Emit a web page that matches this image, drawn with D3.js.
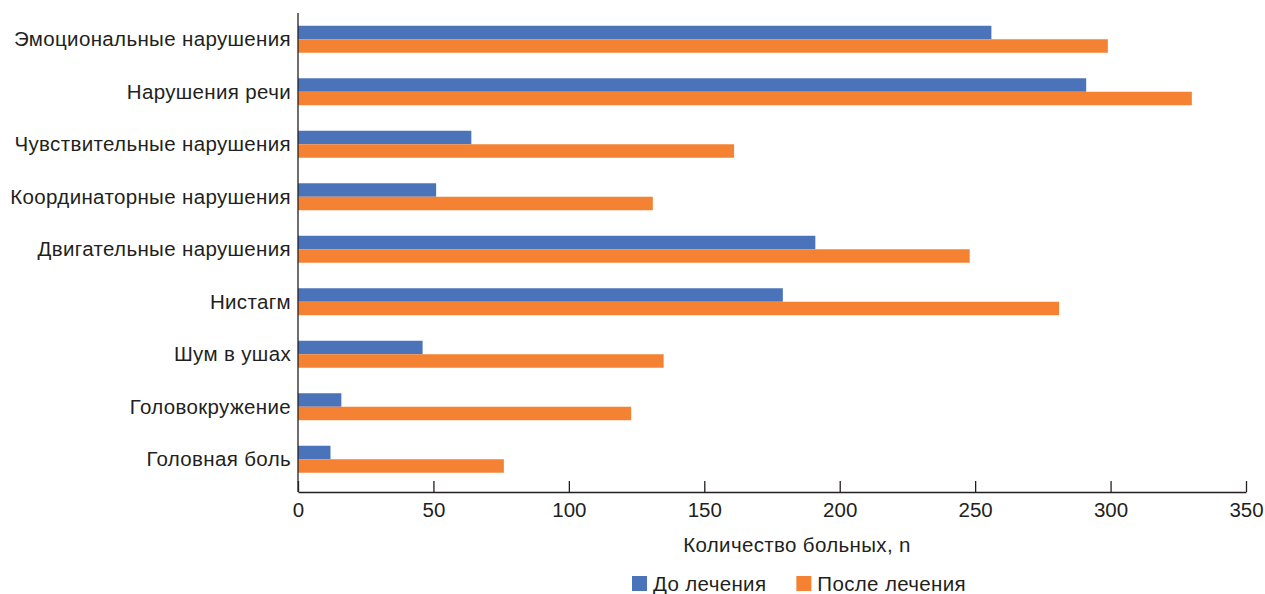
<!DOCTYPE html>
<html><head><meta charset="utf-8">
<script src="https://cdn.jsdelivr.net/npm/d3@7"></script>
<style>
html,body{margin:0;padding:0;background:#fff;}
text{font-family:"Liberation Sans",Arial,sans-serif;fill:#231f20;}
</style></head>
<body><svg id="c" width="1265" height="594"></svg>
<script>
const categories = ["Эмоциональные нарушения","Нарушения речи","Чувствительные нарушения","Координаторные нарушения","Двигательные нарушения","Нистагм","Шум в ушах","Головокружение","Головная боль"];
const before = [256, 291, 64, 51, 191, 179, 46, 16, 12];
const after = [299, 330, 161, 131, 248, 281, 135, 123, 76];
const seriesNames = ["До лечения","После лечения"];
const xTicks = [0,50,100,150,200,250,300,350];

const colors = ["#4b73b9","#f58233"];
const svg = d3.select("#c");
const pLeft = 298, pRight = 1246, pTop = 13, pBottom = 492;
const fs = 20.5, ls = 0.35;
const ff = "'Liberation Sans',Arial,sans-serif";

const x = d3.scaleLinear().domain([0,350]).range([pLeft,pRight]);
const y = d3.scaleBand().domain(categories).range([6.5,pBottom]).paddingInner(0.486).paddingOuter(0.367);
const ys = d3.scaleBand().domain([0,1]).range([0,y.bandwidth()]);

const data = categories.map((c,i)=>({c, v:[before[i], after[i]]}));
const g = svg.append("g");
data.forEach(d=>{
  d.v.forEach((v,k)=>{
    g.append("rect").attr("x",x(0)).attr("y",y(d.c)+ys(k))
     .attr("width",x(v)-x(0)).attr("height",ys.bandwidth())
     .attr("fill",colors[k]);
  });
});

// x axis
const xa = svg.append("g").attr("transform",`translate(0,${pBottom})`)
  .call(d3.axisBottom(x).tickValues(xTicks).tickSizeInner(-11).tickSizeOuter(0).tickPadding(9));
xa.select(".domain").attr("stroke","#231f20").attr("stroke-width",1.3);
xa.selectAll(".tick line").attr("stroke","#231f20").attr("stroke-width",1.3);
xa.selectAll(".tick text").attr("font-size",fs).attr("dy","0.85em").attr("font-family",ff).attr("fill","#231f20");
xa.selectAll(".tick text").attr("y",8);

// y axis
const ya = svg.append("g").attr("transform",`translate(${pLeft},0)`)
  .call(d3.axisLeft(y).tickSize(0).tickPadding(7));
ya.select(".domain").remove();
svg.append("line").attr("x1",pLeft).attr("x2",pLeft).attr("y1",pTop).attr("y2",pBottom).attr("stroke","#231f20").attr("stroke-width",1.3);
ya.selectAll(".tick text").attr("font-size",fs).attr("letter-spacing",ls).attr("font-family",ff).attr("fill","#231f20").attr("dy","0.35em");

// axis title
svg.append("text").attr("x",797).attr("y",552).attr("text-anchor","middle")
  .attr("font-size",fs).attr("letter-spacing",ls).text("Количество больных, n");

// legend
const lg = svg.append("g").attr("transform","translate(632,576)");
let lx = 0;
seriesNames.forEach((n,k)=>{
  const it = lg.append("g").attr("transform",`translate(${lx},0)`);
  it.append("rect").attr("width",15).attr("height",15).attr("fill",colors[k]);
  const t = it.append("text").attr("x",21).attr("y",15).attr("font-size",fs).attr("letter-spacing",ls).text(n);
  lx += 21 + t.node().getComputedTextLength() + 30;
});
</script></body></html>
